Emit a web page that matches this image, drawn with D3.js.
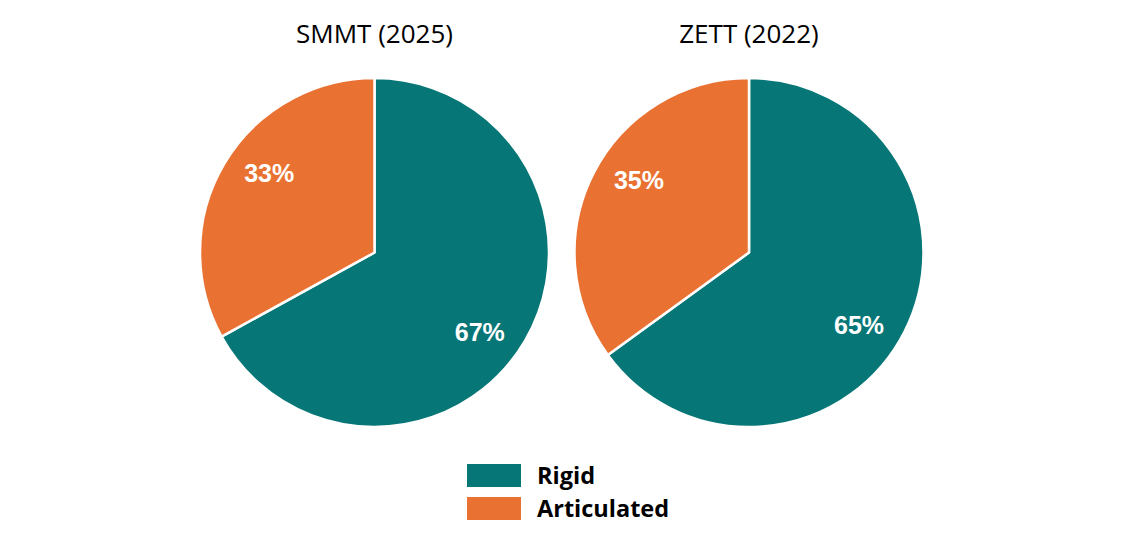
<!DOCTYPE html>
<html>
<head>
<meta charset="utf-8">
<script src="https://cdn.jsdelivr.net/npm/d3@7"></script>
<style>
  body { margin: 0; background: #fff; }
</style>
</head>
<body>
<svg id="chart"></svg>
<script>
const width = 1125;
const height = 545;

// data
const sources = ["SMMT (2025)", "ZETT (2022)"];
const categories = ["Rigid", "Articulated"];
const rigidShare = [67, 65];
const articulatedShare = [33, 35];
const colors = ["#077676", "#E97233"];

const svg = d3.select("#chart")
  .attr("width", width)
  .attr("height", height);

const radius = 174.5;
const centers = [374.5, 749];
const cy = 252.5;

const color = d3.scaleOrdinal().domain(categories).range(colors);

const pie = d3.pie()
  .sort(null)
  .value(d => d.value);

const arc = d3.arc().innerRadius(0).outerRadius(radius);

sources.forEach((src, i) => {
  const data = [
    { name: "Rigid", value: rigidShare[i] },
    { name: "Articulated", value: articulatedShare[i] }
  ];

  const g = svg.append("g")
    .attr("transform", `translate(${centers[i]},${cy})`);

  g.selectAll("path")
    .data(pie(data))
    .enter()
    .append("path")
    .attr("d", arc)
    .attr("fill", d => color(d.data.name))
    .attr("stroke", "#fff")
    .attr("stroke-width", 2.5)
    .attr("stroke-linejoin", "round");

  // labels sit a bit clockwise of the slice middle, like Excel's best fit
  const labelR = 132;
  const shift = 6.5 * Math.PI / 180;
  g.selectAll("text.lbl")
    .data(pie(data))
    .enter()
    .append("text")
    .attr("class", "lbl")
    .attr("x", d => Math.sin((d.startAngle + d.endAngle) / 2 + shift) * labelR)
    .attr("y", d => -Math.cos((d.startAngle + d.endAngle) / 2 + shift) * labelR)
    .attr("dy", "0.36em")
    .attr("text-anchor", "middle")
    .style("font-family", "'Liberation Sans', Arial, sans-serif")
    .style("font-weight", "bold")
    .style("font-size", "25px")
    .style("fill", "#fff")
    .text(d => d.data.value + "%");

  svg.append("text")
    .attr("x", centers[i])
    .attr("y", 43)
    .attr("text-anchor", "middle")
    .style("font-family", "'Open Sans', sans-serif")
    .style("font-size", "26px")
    .style("fill", "#000")
    .text(src);
});

// legend
const legend = svg.append("g").attr("transform", "translate(467,464)");
categories.forEach((c, i) => {
  legend.append("rect")
    .attr("x", 0)
    .attr("y", i * 33)
    .attr("width", 54)
    .attr("height", 23)
    .attr("fill", color(c));
  legend.append("text")
    .attr("x", 70)
    .attr("y", i * 33 + 19.5)
    .style("font-family", "'Open Sans', sans-serif")
    .style("font-weight", "bold")
    .style("font-size", "23.5px")
    .style("fill", "#000")
    .text(c);
});
</script>
</body>
</html>
